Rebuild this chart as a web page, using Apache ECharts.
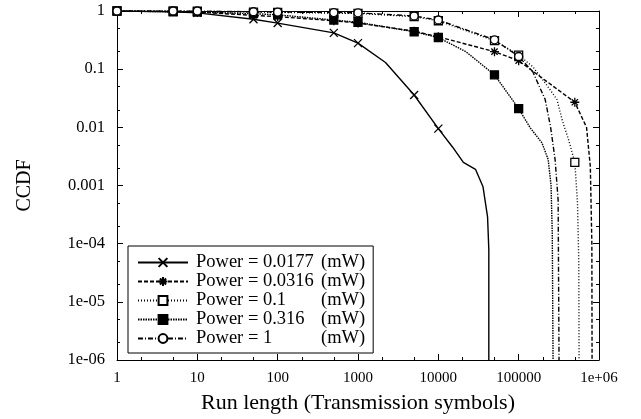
<!DOCTYPE html>
<html>
<head>
<meta charset="utf-8">
<script src="https://cdn.jsdelivr.net/npm/echarts@6/dist/echarts.min.js"></script>
<style>
  html, body { margin: 0; padding: 0; background: #fff; }
  #main { width: 641px; height: 419px; }
</style>
</head>
<body>
<div id="main"></div>
<script>
    // run lengths where the markers sit
    var markX = [1, 5, 10, 50, 100, 500, 1000, 5000, 10000, 50000, 100000, 500000];

    var names = ['Power = 0.0177', 'Power = 0.0316', 'Power = 0.1', 'Power = 0.316', 'Power = 1'];

    // Power = 0.0177 mW
    var p0177X = [1, 5, 10, 50, 100, 500, 1000, 2200, 5000, 10000, 15000, 20500, 29000, 36000, 41000, 42500, 42500];
    var p0177Y = [1, 0.97, 0.93, 0.72, 0.62, 0.42, 0.28, 0.13, 0.036, 0.0095, 0.0046, 0.0025, 0.0019, 0.00095, 0.00029, 0.000079, 1e-6];

    // Power = 0.0316 mW
    var p0316X = [1, 5, 10, 50, 100, 500, 1000, 5000, 10000, 50000, 100000, 500000, 700000, 780000, 815000, 820000];
    var p0316Y = [1, 0.98, 0.96, 0.84, 0.8, 0.68, 0.62, 0.45, 0.36, 0.2, 0.14, 0.027, 0.01, 0.0021, 0.0001, 1e-6];

    // Power = 0.1 mW
    var p1X = [1, 5, 10, 50, 100, 500, 1000, 5000, 10000, 50000, 100000, 150000, 220000, 300000, 350000, 420000, 500000, 540000, 560000, 565000];
    var p1Y = [1, 1, 0.99, 0.96, 0.95, 0.92, 0.91, 0.8, 0.68, 0.31, 0.175, 0.11, 0.055, 0.03, 0.013, 0.006, 0.0025, 0.0005, 0.00005, 1e-6];

    // Power = 0.316 mW
    var p316X = [1, 5, 10, 50, 100, 500, 1000, 5000, 10000, 22000, 50000, 100000, 138000, 195000, 233000, 253000, 262000, 268000];
    var p316Y = [1, 0.97, 0.96, 0.9, 0.86, 0.7, 0.64, 0.44, 0.35, 0.2, 0.08, 0.021, 0.01, 0.0054, 0.0028, 0.001, 0.00015, 1e-6];

    // Power = 1 mW
    var pOneX = [1, 5, 10, 50, 100, 500, 1000, 5000, 10000, 50000, 100000, 150000, 214000, 250000, 284000, 310000, 318000];
    var pOneY = [1, 1, 1, 0.97, 0.96, 0.94, 0.93, 0.82, 0.7, 0.32, 0.165, 0.09, 0.03, 0.01, 0.0028, 0.00056, 1e-6];

    var xTickLabels = ['1', '10', '100', '1000', '10000', '100000', '1e+06'];
    var yTickLabels = ['1e-06', '1e-05', '1e-04', '0.001', '0.01', '0.1', '1'];

    // minor ticks at 2 and 5 of each decade, given as exponents (decade offsets)
    var minorSteps = [0.30103, 0.69897];

    var FONT = '"Liberation Serif", "DejaVu Serif", serif';

    function minorValues(lo, hi) {
        var v = [];
        for (var e = lo; e < hi; e++) {
            minorSteps.forEach(function (s) { v.push(e + s); });
        }
        return v;
    }

    function build(xs, ys, lastMarker) {
        var out = [];
        for (var i = 0; i < xs.length; i++) {
            var isMark = markX.indexOf(xs[i]) >= 0 && xs[i] <= lastMarker && ys[i] > 1e-6;
            var d = { value: [xs[i], ys[i]] };
            if (!isMark) d.symbol = 'none';
            out.push(d);
        }
        return out;
    }

    var crossPath = 'path://M0,0L10,10M10,0L0,10';
    var starPath = 'path://M5,0L5,10M0,5L10,5M1.5,1.5L8.5,8.5M8.5,1.5L1.5,8.5';

    function line(name, data, dash, symbol, size, fill) {
        return {
            name: name,
            type: 'line',
            xAxisIndex: 0,
            yAxisIndex: 0,
            data: data,
            symbol: symbol,
            symbolSize: size,
            showAllSymbol: true,
            animation: false,
            lineStyle: { color: '#000', width: 1.4, type: dash },
            itemStyle: { color: fill, borderColor: '#000', borderWidth: 1.3 },
            emphasis: { disabled: true }
        };
    }

    var chart = echarts.init(document.getElementById('main'));

    function logAxis(pos, min, max, opts) {
        var a = {
            type: 'log',
            logBase: 10,
            position: pos,
            min: min,
            max: max,
            interval: 1,
            splitLine: { show: false },
            axisLine: { show: true, onZero: false, lineStyle: { color: '#000', width: 1 } },
            axisTick: { show: true, inside: true, length: 6, lineStyle: { color: '#000' } },
            axisLabel: { show: false }
        };
        for (var k in opts) a[k] = opts[k];
        return a;
    }

    // tick-only axis in exponent space, for the minor ticks
    function minorAxis(pos, lo, hi) {
        return {
            type: 'value',
            position: pos,
            min: lo,
            max: hi,
            splitLine: { show: false },
            axisLine: { show: false, onZero: false },
            axisLabel: { show: false },
            axisTick: { show: true, inside: true, length: 3, customValues: minorValues(lo, hi), lineStyle: { color: '#000' } }
        };
    }

    var option = {
        backgroundColor: '#fff',
        textStyle: { fontFamily: FONT },
        grid: { left: 117, right: 42, top: 11, bottom: 59 },
        legend: {
            left: 128,
            top: 246,
            orient: 'vertical',
            data: names,
            itemWidth: 50,
            itemHeight: 11,
            itemGap: 0,
            padding: [7, 8, 5, 9],
            backgroundColor: '#fff',
            borderColor: '#000',
            borderWidth: 1,
            borderRadius: 0,
            selectedMode: false,
            formatter: function (name) {
                return '{a|' + name + '}{b|(mW)}';
            },
            textStyle: {
                fontFamily: FONT,
                rich: {
                    a: { fontFamily: FONT, fontSize: 18.5, color: '#000', width: 125, padding: [0, 0, 0, 3], lineHeight: 19 },
                    b: { fontFamily: FONT, fontSize: 18.5, color: '#000', lineHeight: 19 }
                }
            }
        },
        xAxis: [
            logAxis('bottom', 1, 1e6, {
                name: 'Run length (Transmission symbols)',
                nameLocation: 'middle',
                nameGap: 32,
                nameTextStyle: { fontFamily: FONT, fontSize: 22, color: '#000' },
                axisLabel: {
                    show: true, margin: 11, color: '#000', fontFamily: FONT, fontSize: 15,
                    formatter: function (v) { return xTickLabels[Math.round(Math.log10(v))]; }
                }
            }),
            minorAxis('bottom', 0, 6),
            logAxis('top', 1, 1e6, {}),
            minorAxis('top', 0, 6)
        ],
        yAxis: [
            logAxis('left', 1e-6, 1, {
                name: 'CCDF',
                nameLocation: 'middle',
                nameGap: 82,
                nameRotate: 90,
                nameTextStyle: { fontFamily: FONT, fontSize: 20, color: '#000' },
                axisLabel: {
                    show: true, margin: 12, color: '#000', fontFamily: FONT, fontSize: 16.5,
                    formatter: function (v) { return yTickLabels[Math.round(Math.log10(v)) + 6]; }
                }
            }),
            minorAxis('left', -6, 0),
            logAxis('right', 1e-6, 1, {}),
            minorAxis('right', -6, 0)
        ],
        series: [
            line(names[0], build(p0177X, p0177Y, 10000), 'solid', crossPath, 8, 'none'),
            line(names[1], build(p0316X, p0316Y, 500000), [4, 2], starPath, 9, 'none'),
            line(names[2], build(p1X, p1Y, 500000), [1, 2], 'rect', 8, '#fff'),
            line(names[3], build(p316X, p316Y, 100000), [1.5, 1], 'rect', 8, '#000'),
            line(names[4], build(pOneX, pOneY, 100000), [5, 2, 1, 2], 'circle', 8, '#fff')
        ]
    };
    chart.setOption(option);
</script>
</body>
</html>
